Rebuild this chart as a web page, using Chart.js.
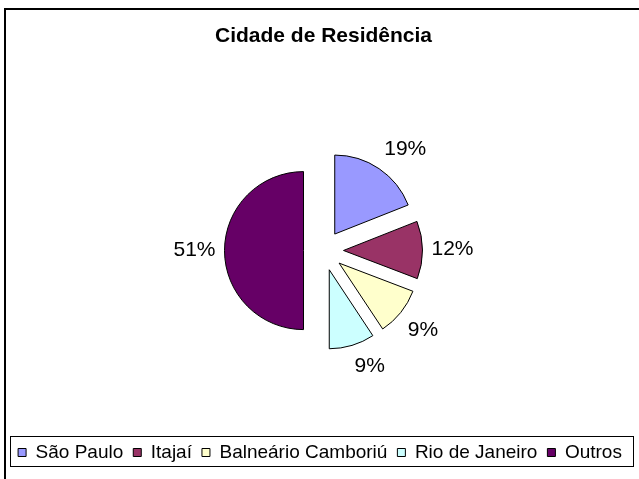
<!DOCTYPE html>
<html>
<head>
<meta charset="utf-8">
<script src="https://cdn.jsdelivr.net/npm/chart.js@4"></script>
<style>
  html, body { margin: 0; padding: 0; background: #fff; overflow: hidden; }
  #wrap { position: relative; width: 639px; height: 479px; }
  #chart { position: absolute; left: 0; top: 0; }
  /* moldura do gráfico (só aparecem os lados esquerdo e superior) */
  #moldura { position: absolute; left: 4px; top: 8px; width: 700px; height: 600px;
    border-left: 2px solid #000; border-top: 2px solid #000; pointer-events: none; }
</style>
</head>
<body>
<div id="wrap">
  <canvas id="chart" width="639" height="479"></canvas>
  <div id="moldura"></div>
</div>
<script>
const titulo = 'Cidade de Residência'
const categorias = ['São Paulo', 'Itajaí', 'Balneário Camboriú', 'Rio de Janeiro', 'Outros']
// fatias medidas pelos ângulos do desenho (Outros ocupa meia pizza)
const valores = [19, 11.8, 9.9, 9.3, 50]
// rótulos como aparecem no gráfico original
const percentuais = ['19%', '12%', '9%', '9%', '51%']
const cores = ['#9999ff', '#993366', '#ffffcc', '#ccffff', '#660066']

const FONTE = '"Liberation Sans", Arial, sans-serif'
const EXPLODE = 20

const clamp = (v) => Math.max(-1, Math.min(1, v))

// afasta cada fatia do centro pela mesma distância (o offset do Chart.js não é uniforme)
const explodirFatias = {
  id: 'explodirFatias',
  afterDatasetUpdate(chart, args) {
    args.meta.data.forEach((arc) => {
      const meio = (arc.startAngle + arc.endAngle) / 2
      arc.x += Math.cos(meio) * EXPLODE
      arc.y += Math.sin(meio) * EXPLODE
    })
  },
}

// rótulos de porcentagem fora das fatias
const rotulos = {
  id: 'rotulos',
  afterDatasetsDraw(chart) {
    const ctx = chart.ctx
    const meta = chart.getDatasetMeta(0)
    ctx.save()
    ctx.font = '21px ' + FONTE
    ctx.fillStyle = '#000'
    ctx.textAlign = 'center'
    ctx.textBaseline = 'middle'
    meta.data.forEach((arc, i) => {
      const texto = percentuais[i]
      const meio = (arc.startAngle + arc.endAngle) / 2
      const dx = Math.cos(meio)
      const dy = Math.sin(meio)
      const w = ctx.measureText(texto).width
      const d = arc.outerRadius + 9
      const x = arc.x + dx * d + (clamp(dx * 4) * w) / 2
      const y = arc.y + dy * d + clamp(dy * 4) * 12
      ctx.fillText(texto, x, y)
    })
    ctx.restore()
  },
}

// caixa em volta da legenda, e legenda um pouco à esquerda como no original
const caixaLegenda = {
  id: 'caixaLegenda',
  afterLayout(chart) {
    chart.legend.left -= 3.5
    chart.legend.right -= 3.5
  },
  afterDraw(chart) {
    const legenda = chart.legend
    const hb = legenda.legendHitBoxes
    if (!hb || !hb.length) return
    const ctx = chart.ctx
    const x0 = Math.round(hb[0].left - 8) + 0.5
    const x1 = Math.round(hb[hb.length - 1].left + hb[hb.length - 1].width + 11) + 0.5
    const y0 = Math.round(legenda.top + 3) + 0.5
    ctx.save()
    ctx.strokeStyle = '#000'
    ctx.lineWidth = 1
    ctx.strokeRect(x0, y0, x1 - x0, 30)
    ctx.restore()
  },
}

new Chart(document.getElementById('chart'), {
  type: 'pie',
  data: {
    labels: categorias,
    datasets: [
      {
        data: valores,
        backgroundColor: cores,
        borderColor: '#000',
        borderWidth: 1,
      },
    ],
  },
  options: {
    responsive: false,
    animation: false,
    events: [],
    radius: 79,
    layout: { padding: { left: 8, right: 0, top: 0, bottom: 7 } },
    plugins: {
      title: {
        display: true,
        text: titulo,
        color: '#000',
        font: { family: FONTE, size: 21, weight: 'bold' },
        padding: { top: 24, bottom: 19 },
      },
      legend: {
        display: true,
        position: 'bottom',
        labels: {
          color: '#000',
          font: { family: FONTE, size: 19 },
          boxWidth: 8,
          boxHeight: 8,
          padding: 10,
        },
      },
      tooltip: { enabled: false },
    },
  },
  plugins: [explodirFatias, rotulos, caixaLegenda],
})
</script>
</body>
</html>
